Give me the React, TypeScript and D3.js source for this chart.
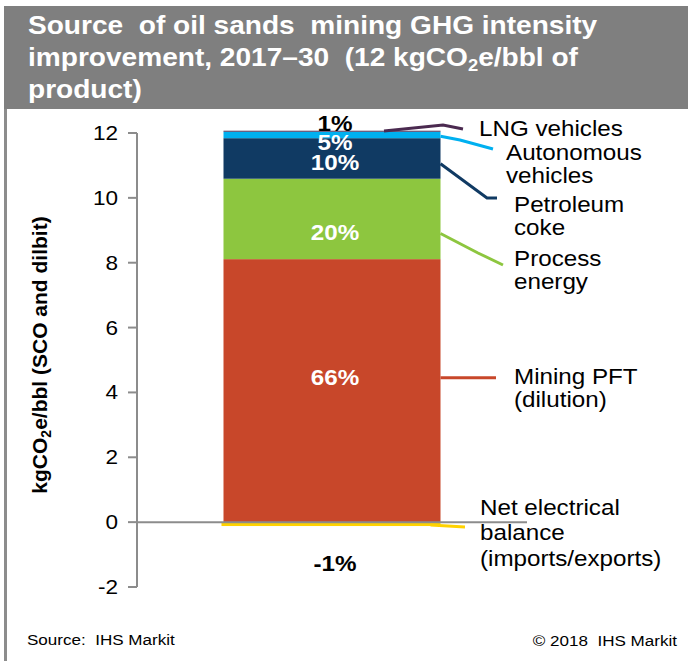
import React from "react";
import * as d3 from "d3";

const categories = ["2017–30"];
const segmentNames = ["Mining PFT", "Process energy", "Petroleum coke", "Autonomous vehicles", "LNG vehicles"];
const segmentValues = [8.11, 2.48, 1.25, 0.2, 0.03];
const segmentPct = ["66%", "20%", "10%", "5%", "1%"];
const negativeName = "Net electrical balance";
const negativeValue = -0.12;
const negativePct = "-1%";
const yTicks = [-2, 0, 2, 4, 6, 8, 10, 12];
const labelLines = [
  ["Mining PFT", "(dilution)"],
  ["Process", "energy"],
  ["Petroleum", "coke"],
  ["Autonomous", "vehicles"],
  ["LNG vehicles"],
];
const negativeLines = ["Net electrical", "balance", "(imports/exports)"];

const W = 688;
const H = 661;
const FONT = "'Liberation Sans', Arial, Helvetica, sans-serif";
const colors = ["#C8472A", "#8DC63F", "#103A63", "#00B0F0", "#4B2A50"];
const negColor = "#FFD200";
const SX = 1.1;

function T({ x, y, sx = SX, children, ...rest }: any) {
  return (
    <g transform={`translate(${x},${y}) scale(${sx},1)`}>
      <text x={0} y={0} style={{ whiteSpace: "pre" }} {...rest}>
        {children}
      </text>
    </g>
  );
}

export default function App() {
  const y = d3.scaleLinear().domain([-2, 12]).range([587, 133]);
  const x = d3.scaleBand<string>().domain(categories).range([137, 527]).paddingInner(0).paddingOuter(0.3986);
  const bx = x(categories[0]) as number;
  const bw = x.bandwidth();
  const right = bx + bw;

  const stack = d3.stack<any>().keys(segmentNames)([
    Object.fromEntries(segmentNames.map((n, i) => [n, segmentValues[i]])),
  ]);

  // percent label offsets (px) from segment centres, and colours
  const pctDy = [-13, 14, 4.5, 8, 0];
  const pctColor = ["#fff", "#fff", "#fff", "#fff", "#000"];
  // leader-line geometry (annotation styling)
  const leaders: [number, number][][] = [
    [[right, y(4.45)], [496, y(4.45)]],
    [[right, y(8.9)], [478, 253], [503, 265]],
    [[right, y(11.05)], [487, 198], [497, 198]],
    [[right, y(11.9)], [460, 140], [493, 149]],
    [[384, 131], [443, 125], [463, 129]],
  ];
  const labelPos = [
    { x: 514, y: 384 },
    { x: 514, y: 266 },
    { x: 514, y: 212 },
    { x: 506, y: 160 },
    { x: 479, y: 136 },
  ];
  const line = d3.line();

  return (
    <svg width={W} height={H} style={{ position: "absolute", left: 0, top: 0, background: "#fff" }} fontFamily={FONT}>
      <rect x={0} y={0} width={W} height={H} fill="#fff" />
      {/* header */}
      <rect x={4} y={6} width={W - 4} height={103} fill="#7F7F7F" />
      <line x1={5.5} x2={5.5} y1={109} y2={H} stroke="#8C8C8C" strokeWidth={3} />
      <T x={28} y={34} sx={1.08} fill="#fff" fontWeight="bold" fontSize={26}>
        Source  of oil sands  mining GHG intensity
      </T>
      <T x={28} y={66} sx={1.08} fill="#fff" fontWeight="bold" fontSize={26}>
        improvement, 2017–30  (12 kgCO
        <tspan fontSize={17} dy={5}>2</tspan>
        <tspan dy={-5}>e/bbl of</tspan>
      </T>
      <T x={28} y={98} sx={1.08} fill="#fff" fontWeight="bold" fontSize={26}>
        product)
      </T>

      {/* y axis */}
      <line x1={137} x2={137} y1={y(12)} y2={y(-2)} stroke="#8C8C8C" strokeWidth={2} />
      {yTicks.map((t) => (
        <g key={t}>
          <line x1={128} x2={137} y1={y(t)} y2={y(t)} stroke="#8C8C8C" strokeWidth={2} />
          <T x={118} y={y(t) + 7} textAnchor="end" fontSize={20.5} fill="#000">
            {t}
          </T>
        </g>
      ))}
      <text
        transform={`translate(47, ${(y(12) + y(-2)) / 2 - 5}) rotate(-90)`}
        textAnchor="middle"
        fontWeight="bold"
        fontSize={21}
        fill="#000"
      >
        kgCO<tspan fontSize={14} dy={4}>2</tspan>
        <tspan dy={-4}>e/bbl (SCO and dilbit)</tspan>
      </text>

      {/* bars */}
      {stack.map((s, i) => (
        <rect
          key={s.key}
          x={bx}
          y={y(s[0][1])}
          width={bw}
          height={Math.max(0, y(s[0][0]) - y(s[0][1]))}
          fill={colors[i]}
        />
      ))}
      <rect x={bx - 2} y={y(0)} width={bw + 2} height={y(negativeValue) - y(0)} fill={negColor} />

      {/* zero line */}
      <line x1={137} x2={527} y1={y(0)} y2={y(0)} stroke="#8C8C8C" strokeWidth={2} />

      {/* leader lines */}
      {leaders.map((pts, i) => (
        <path key={i} d={line(pts) as string} fill="none" stroke={colors[i]} strokeWidth={3} />
      ))}
      <path
        d={line([[right - 10, y(negativeValue / 2) + 1], [465, 527]]) as string}
        fill="none"
        stroke={negColor}
        strokeWidth={3}
      />

      {/* percent labels */}
      {stack.map((s, i) => {
        const cy = i === 4 ? y(12.3) : (y(s[0][0]) + y(s[0][1])) / 2 + pctDy[i];
        return (
          <T
            key={s.key}
            x={bx + bw / 2 + 3}
            y={cy + 7.5}
            textAnchor="middle"
            fontWeight="bold"
            fontSize={22}
            fill={pctColor[i]}
          >
            {segmentPct[i]}
          </T>
        );
      })}
      <T x={bx + bw / 2 + 3} y={y(-1.27) + 7.5} textAnchor="middle" fontWeight="bold" fontSize={22} fill="#000">
        {negativePct}
      </T>

      {/* category labels */}
      {labelLines.map((lines, i) => (
        <T key={i} x={labelPos[i].x} y={labelPos[i].y} fontSize={22} fill="#000">
          {lines.map((l, j) => (
            <tspan key={j} x={0} y={j * 23.5}>
              {l}
            </tspan>
          ))}
        </T>
      ))}
      <T x={480} y={515} fontSize={22} fill="#000">
        {negativeLines.map((l, j) => (
          <tspan key={j} x={0} y={j * 25.5}>
            {l}
          </tspan>
        ))}
      </T>

      {/* footer */}
      <T x={27} y={645} fontSize={15.5} fill="#000">
        Source:  IHS Markit
      </T>
      <T x={677} y={646} fontSize={15.5} textAnchor="end" fill="#000">
        © 2018  IHS Markit
      </T>
    </svg>
  );
}
